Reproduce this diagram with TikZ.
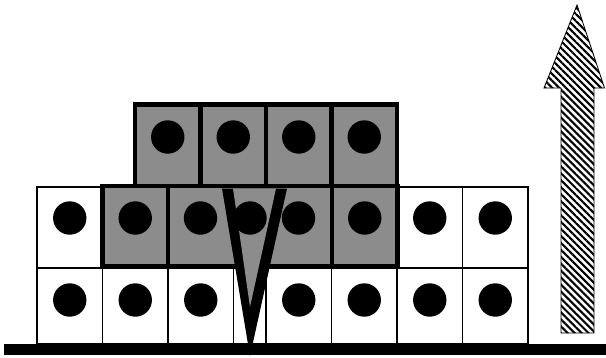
\documentclass[tikz,border=0pt]{standalone}
\usepackage{xcolor}
\usetikzlibrary{patterns.meta}
\definecolor{graycol}{gray}{0.55}

\begin{document}
\begin{tikzpicture}[x=0.025cm, y=-0.025cm,
  cell/.style={draw, line width=1pt, fill=white},
  graycell/.style={draw, line width=3.5pt, fill=graycol},
  atom/.style={fill=black}]
  \useasboundingbox (0,0) rectangle (606,357);
  % substrate cells
  \foreach \xa in {37,102.5,168,266,331.5,397,462.5}
    \draw[cell] (\xa,268) rectangle (\xa+65.5,344);
  \draw[cell] (233.5,268) rectangle (266,344);
  \foreach \xa in {37,397,462.5}
    \draw[cell] (\xa,187) rectangle (\xa+65.5,268);
  % grey layer, lower row
  \draw[graycell] (102.5,186) rectangle (397.5,266);
  \draw[line width=3.5pt] (168,186) -- (168,266) (332,186) -- (332,266);
  % grey layer, upper row
  \foreach \xa in {135,200.5,266,331.5}
    \draw[graycell] (\xa,104.5) rectangle (\xa+65.5,186);
  % wedge
  \fill (222,188.5) -- (287,188.5) -- (250,356) -- cycle;
  \fill[graycol] (233,188.5) -- (276,188.5) -- (250,307) -- cycle;
  % atoms
  \foreach \xa in {69.75,135.25,200.75,298.75,364.25,429.75,495.25}
    \fill[atom] (\xa,300) circle[radius=16.7];
  \foreach \xa in {69.75,135.25,200.5,250,298.5,364.75,429.75,495.25}
    \fill[atom] (\xa,218) circle[radius=16.7];
  \foreach \xa in {167.75,233.25,298.75,364.25}
    \fill[atom] (\xa,137) circle[radius=16.7];
  % ground
  \fill (4,344) rectangle (606,355);
  % growth arrow
  \draw[line width=0.6pt, pattern={Lines[angle=-45,distance=3.5pt,line width=1.5pt]}]
    (577,5) -- (604.5,88) -- (594,88) -- (594,333) -- (561,333) -- (561,88) -- (544,88) -- cycle;
\end{tikzpicture}
\end{document}
